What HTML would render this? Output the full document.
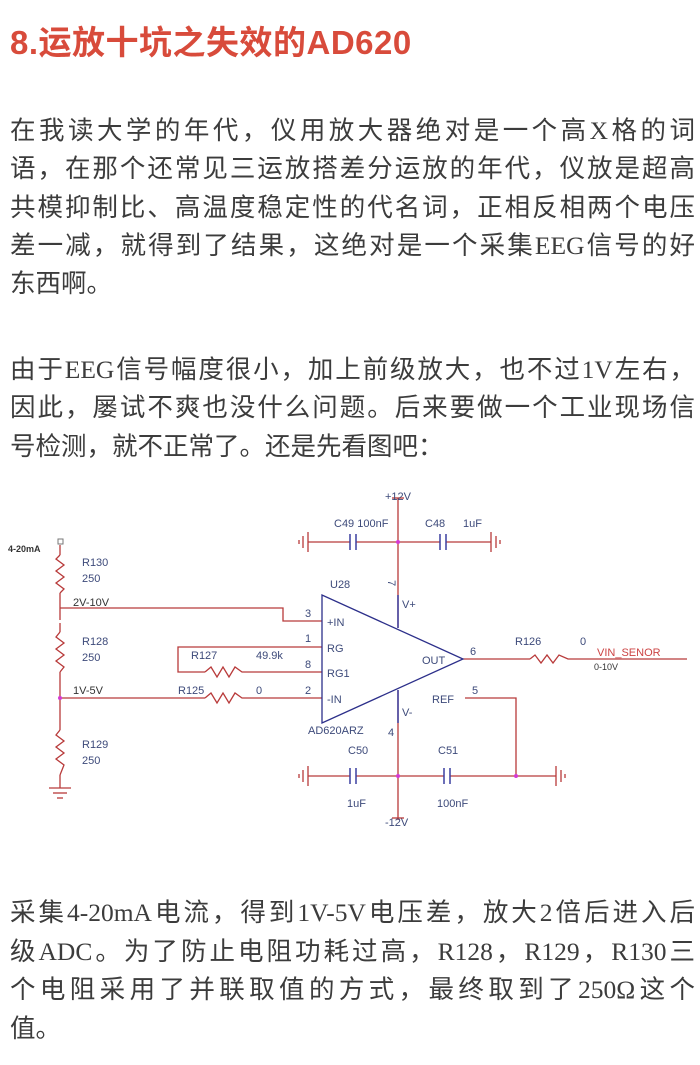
<!DOCTYPE html>
<html><head><meta charset="utf-8"><style>
body{margin:0;background:#fff;width:700px;height:1065px;position:relative;overflow:hidden}
.t{position:absolute;left:10px;top:16px;font:bold 33px "Liberation Sans","Noto Sans CJK SC",sans-serif;color:#d84b3b;letter-spacing:0.5px}
.l{position:absolute;left:10px;width:685px;height:38px;line-height:38px;font-size:25.5px;color:#3c3c3c;font-family:"Liberation Serif","Noto Sans CJK SC",sans-serif;text-align:justify;text-align-last:justify;white-space:nowrap}
.s{text-align-last:left}
svg{position:absolute;left:0;top:0}
svg text{font-family:"Liberation Sans",sans-serif;font-size:11px;fill:#3d4a7a}
</style></head><body>
<div class="t">8.运放十坑之失效的AD620</div>
<div class="l" style="top:112px">在我读大学的年代，仪用放大器绝对是一个高X格的词</div>
<div class="l" style="top:150px">语，在那个还常见三运放搭差分运放的年代，仪放是超高</div>
<div class="l" style="top:189px">共模抑制比、高温度稳定性的代名词，正相反相两个电压</div>
<div class="l" style="top:227px">差一减，就得到了结果，这绝对是一个采集EEG信号的好</div>
<div class="l s" style="top:265px">东西啊。</div>
<div class="l" style="top:351px">由于EEG信号幅度很小，加上前级放大，也不过1V左右，</div>
<div class="l" style="top:389px">因此，屡试不爽也没什么问题。后来要做一个工业现场信</div>
<div class="l s" style="top:428px">号检测，就不正常了。还是先看图吧：</div>
<div class="l" style="top:894px">采集4-20mA电流，得到1V-5V电压差，放大2倍后进入后</div>
<div class="l" style="top:933px">级ADC。为了防止电阻功耗过高，R128，R129，R130三</div>
<div class="l" style="top:971px">个电阻采用了并联取值的方式，最终取到了250Ω这个</div>
<div class="l s" style="top:1010px">值。</div>
<svg width="700" height="1065">
<g stroke="#b83a3a" stroke-width="1.3" fill="none">
<line x1="60" y1="545" x2="60" y2="555"/>
<polyline points="60,555 56,559 64,565 56,571 64,577 56,583 64,589 60,593"/>
<line x1="60" y1="593" x2="60" y2="620"/>
<line x1="60" y1="623" x2="60" y2="632"/>
<polyline points="60,632 56,637 64,643 56,649 64,655 56,661 64,667 60,672"/>
<line x1="60" y1="672" x2="60" y2="730"/>
<polyline points="60,730 56,735 64,741 56,747 64,753 56,759 64,765 60,775"/>
<line x1="60" y1="775" x2="60" y2="788"/>
<line x1="49" y1="788" x2="71" y2="788"/><line x1="53" y1="793" x2="67" y2="793"/><line x1="57" y1="798" x2="63" y2="798"/>
<polyline points="60,608 283,608 283,621 322,621"/>
<polyline points="322,647 178,647 178,672 205,672"/>
<polyline points="205,672 211,667 217,677 223,667 229,677 235,667 242,672 322,672"/>
<line x1="60" y1="698" x2="205" y2="698"/>
<polyline points="205,698 211,693 217,703 223,693 229,703 235,693 242,698 322,698"/>
<line x1="398" y1="498" x2="398" y2="628"/>
<line x1="398" y1="690" x2="398" y2="820"/>
<line x1="392" y1="498" x2="404" y2="498"/><line x1="392" y1="818" x2="404" y2="818"/>
<line x1="308" y1="542" x2="350" y2="542"/><line x1="356" y1="542" x2="440" y2="542"/><line x1="446" y1="542" x2="491" y2="542"/>
<line x1="308" y1="776" x2="350" y2="776"/><line x1="356" y1="776" x2="444" y2="776"/><line x1="450" y1="776" x2="556" y2="776"/>
<line x1="308" y1="532" x2="308" y2="552"/><line x1="303" y1="536" x2="303" y2="548"/><line x1="299" y1="540" x2="299" y2="544"/>
<line x1="491" y1="532" x2="491" y2="552"/><line x1="496" y1="536" x2="496" y2="548"/><line x1="500" y1="540" x2="500" y2="544"/>
<line x1="308" y1="766" x2="308" y2="786"/><line x1="303" y1="770" x2="303" y2="782"/><line x1="299" y1="774" x2="299" y2="778"/>
<line x1="556" y1="766" x2="556" y2="786"/><line x1="561" y1="770" x2="561" y2="782"/><line x1="565" y1="774" x2="565" y2="778"/>
<line x1="463" y1="659" x2="530" y2="659"/>
<polyline points="530,659 535,655 541,663 547,655 553,663 559,655 568,659 687,659"/>
<polyline points="465,698 516,698 516,776"/>
</g>
<g stroke="#3b3fa0" stroke-width="1.5">
<line x1="350" y1="534" x2="350" y2="550"/><line x1="356" y1="534" x2="356" y2="550"/>
<line x1="440" y1="534" x2="440" y2="550"/><line x1="446" y1="534" x2="446" y2="550"/>
<line x1="350" y1="768" x2="350" y2="784"/><line x1="356" y1="768" x2="356" y2="784"/>
<line x1="444" y1="768" x2="444" y2="784"/><line x1="450" y1="768" x2="450" y2="784"/>
<line x1="398" y1="595" x2="398" y2="628"/><line x1="398" y1="690" x2="398" y2="723"/>
</g>
<polygon points="322,595 322,723 463,659" fill="none" stroke="#2c2f8a" stroke-width="1.3"/>
<rect x="58" y="539" width="5" height="5" fill="#fff" stroke="#777"/>
<g fill="#d43ad4"><circle cx="60" cy="698" r="2"/><circle cx="398" cy="542" r="2"/><circle cx="398" cy="776" r="2"/><circle cx="516" cy="776" r="2"/></g>
<text x="8" y="552" style="font-size:9px;fill:#333;font-weight:bold">4-20mA</text>
<text x="82" y="566">R130</text><text x="82" y="582">250</text>
<text x="73" y="606" style="fill:#333">2V-10V</text>
<text x="82" y="645">R128</text><text x="82" y="661">250</text>
<text x="73" y="694" style="fill:#333">1V-5V</text>
<text x="82" y="748">R129</text><text x="82" y="764">250</text>
<text x="191" y="659">R127</text><text x="256" y="659">49.9k</text>
<text x="178" y="694">R125</text><text x="256" y="694">0</text>
<text x="305" y="617">3</text><text x="305" y="642">1</text><text x="305" y="668">8</text><text x="305" y="694">2</text>
<text x="327" y="626">+IN</text><text x="327" y="652">RG</text><text x="327" y="677">RG1</text><text x="327" y="703">-IN</text>
<text x="330" y="588">U28</text><text x="308" y="734">AD620ARZ</text>
<text x="402" y="608">V+</text><text x="402" y="716">V-</text>
<text x="422" y="664">OUT</text><text x="470" y="655">6</text>
<text x="472" y="694">5</text><text x="432" y="703">REF</text>
<text x="389" y="587" transform="rotate(90 392 583)">7</text>
<text x="388" y="736">4</text>
<text x="385" y="500">+12V</text><text x="385" y="826">-12V</text>
<text x="334" y="527">C49 100nF</text><text x="425" y="527">C48</text><text x="463" y="527">1uF</text>
<text x="348" y="754">C50</text><text x="438" y="754">C51</text>
<text x="347" y="807">1uF</text><text x="437" y="807">100nF</text>
<text x="515" y="645">R126</text><text x="580" y="645">0</text>
<text x="597" y="656" style="fill:#c44">VIN_SENOR</text>
<text x="594" y="670" style="font-size:9px;fill:#333">0-10V</text>
</svg>
</body></html>
